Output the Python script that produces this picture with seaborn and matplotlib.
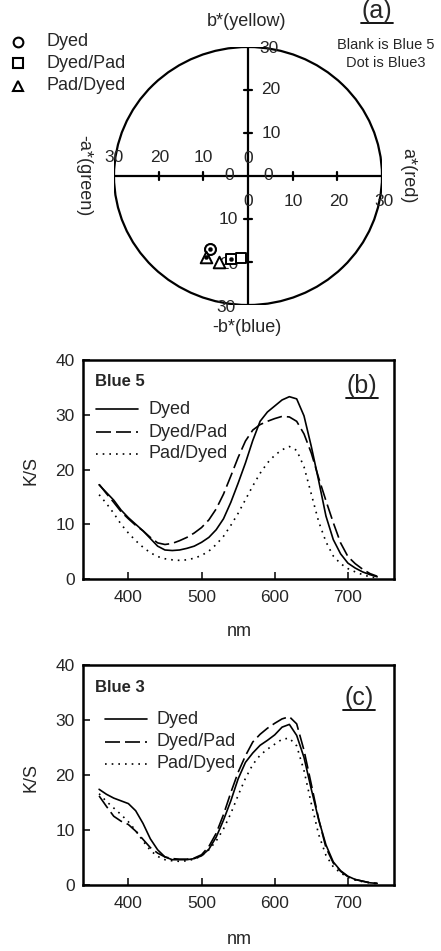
import numpy as np
import pandas as pd
import matplotlib
matplotlib.use("Agg")
import matplotlib.pyplot as plt
from matplotlib.patches import Ellipse
from matplotlib.lines import Line2D
import seaborn as sns

sns.set_theme(style="white")
plt.rcParams['font.family'] = ['Liberation Sans', 'DejaVu Sans']

# ---------------- data ----------------
series_names = ["Dyed", "Dyed/Pad", "Pad/Dyed"]

# panel (a): CIELab a*, b* coordinates
a_blue5 = [-8.6, -1.6, -6.4]
b_blue5 = [-17.0, -19.0, -20.0]
a_blue3 = [-8.6, -3.8, -9.3]
b_blue3 = [-17.0, -19.3, -18.9]

wavelength = list(range(360, 741, 10))

ks_blue5_dyed = [17.2, 15.8, 14.4, 12.6, 11.2, 10.0, 8.8, 7.4, 6.0, 5.3, 5.2, 5.3, 5.6, 6.0,
                 6.7, 7.6, 9.0, 11.0, 14.0, 17.5, 21.2, 25.3, 28.8, 30.5, 31.6, 32.7, 33.3,
                 32.9, 29.8, 24.2, 18.0, 11.5, 7.2, 4.6, 2.9, 2.0, 1.3, 0.8, 0.4]
ks_blue5_dyedpad = [17.3, 15.6, 14.0, 12.3, 11.0, 9.8, 8.8, 7.6, 6.6, 6.3, 6.5, 7.0, 7.6, 8.4,
                    9.4, 10.8, 12.8, 15.5, 18.8, 22.2, 25.2, 27.2, 28.2, 28.8, 29.3, 29.7, 29.6,
                    28.8, 26.5, 23.0, 18.5, 14.3, 10.3, 6.6, 4.1, 2.8, 1.8, 1.0, 0.5]
ks_blue5_paddyed = [15.4, 13.8, 12.0, 10.0, 8.4, 7.0, 5.8, 4.8, 4.1, 3.7, 3.5, 3.4, 3.5, 3.8,
                    4.3, 5.1, 6.3, 7.8, 9.8, 12.0, 14.5, 17.0, 19.3, 21.2, 22.6, 23.6, 24.2,
                    23.5, 20.5, 15.5, 10.5, 6.8, 4.2, 2.8, 1.9, 1.3, 0.8, 0.4, 0.2]

ks_blue3_dyed = [17.4, 16.5, 15.8, 15.3, 14.8, 13.5, 11.2, 8.4, 6.4, 5.1, 4.6, 4.6, 4.6, 4.8,
                 5.3, 6.5, 8.7, 11.8, 15.3, 19.3, 22.3, 24.0, 25.4, 26.3, 27.3, 28.7, 29.2,
                 27.2, 23.2, 17.4, 11.9, 7.3, 4.2, 2.6, 1.6, 1.0, 0.7, 0.4, 0.3]
ks_blue3_dyedpad = [16.2, 14.3, 12.5, 11.6, 11.0, 9.8, 8.3, 6.8, 5.8, 5.1, 4.8, 4.7, 4.7, 4.9,
                    5.5, 7.0, 9.4, 12.8, 16.8, 20.5, 23.5, 26.0, 27.4, 28.5, 29.4, 30.2, 30.6,
                    29.3, 24.5, 18.3, 12.0, 6.8, 4.0, 2.5, 1.5, 1.0, 0.7, 0.4, 0.3]
ks_blue3_paddyed = [16.6, 15.2, 14.0, 12.8, 11.5, 9.9, 8.0, 6.3, 5.2, 4.6, 4.4, 4.3, 4.4, 4.7,
                    5.3, 6.4, 8.0, 10.2, 13.0, 16.3, 19.4, 21.9, 23.6, 24.7, 25.6, 26.5, 26.7,
                    25.3, 20.8, 14.8, 9.2, 5.4, 3.3, 2.2, 1.4, 0.9, 0.6, 0.4, 0.2]

x_ticks = [400, 500, 600, 700]
y_ticks = [0, 10, 20, 30, 40]

# ---------------- figure ----------------
W, H = 441, 951
fig = plt.figure(figsize=(W / 100, H / 100), dpi=100)
fig.patch.set_facecolor("white")

def fx(px):
    return px / W

def fy(py):
    return 1 - py / H

styles = {"Dyed": dict(linestyle="-"),
          "Dyed/Pad": dict(linestyle=(0, (9, 3))),
          "Pad/Dyed": dict(linestyle=(0, (1, 3)))}

def tag_text(x, y, s):
    fig.text(fx(x), fy(y), s, ha="center", va="center", fontsize=18)
    fig.add_artist(Line2D([fx(x - 16), fx(x + 16)], [fy(y + 12), fy(y + 12)],
                          color="black", lw=1.3))

# ---------------- panel (a) ----------------
axa = fig.add_axes([fx(114), fy(305), fx(268), 258 / H])
axa.set_xlim(-30, 30)
axa.set_ylim(-30, 30)
axa.axis("off")
axa.add_patch(Ellipse((0, 0), 60, 60, fill=False, edgecolor="black", lw=1.6))
axa.plot([-30, 30], [0, 0], color="black", lw=1.6)
axa.plot([0, 0], [-30, 30], color="black", lw=1.6)
for t in [-20, -10, 10, 20]:
    axa.plot([t, t], [-0.9, 0.9], color="black", lw=1.6)
    axa.plot([-0.9, 0.9], [t, t], color="black", lw=1.6)

tfs = 12.5
tick_texts = [("30", 4.7, 29.6), ("20", 5.2, 20), ("10", 5.2, 10), ("0", 0, 4),
              ("30", -30, 4.2), ("20", -19.7, 4.2), ("10", -10, 4.2), ("0", -4.3, 0),
              ("0", 4.5, 0), ("10", 10.2, -6), ("20", 20.3, -6), ("30", 30.5, -6),
              ("0", 0, -6), ("10", -4.5, -10.2), ("20", -4.4, -20.5), ("30", -5, -30.5)]
for s, x, y in tick_texts:
    axa.text(x, y, s, ha="center", va="center", fontsize=tfs, clip_on=False)

# points
mk = {"Dyed": "o", "Dyed/Pad": "s", "Pad/Dyed": "^"}
msize = {"Dyed": 60, "Dyed/Pad": 50, "Pad/Dyed": 70}
for i, name in enumerate(series_names):
    sns.scatterplot(x=[a_blue5[i]], y=[b_blue5[i]], marker=mk[name], s=msize[name],
                    facecolor="white", edgecolor="black", linewidth=1.4, ax=axa, zorder=3)
for i, name in enumerate(series_names):
    sns.scatterplot(x=[a_blue3[i]], y=[b_blue3[i]], marker=mk[name], s=msize[name],
                    facecolor="white", edgecolor="black", linewidth=1.4, ax=axa, zorder=4)
    sns.scatterplot(x=[a_blue3[i]], y=[b_blue3[i]], marker="o", s=9,
                    color="black", edgecolor="black", ax=axa, zorder=5)

fig.text(fx(247), fy(22), "b*(yellow)", ha="center", va="center", fontsize=13)
fig.text(fx(247), fy(327), "-b*(blue)", ha="center", va="center", fontsize=13)
fig.text(fx(84), fy(176), "-a*(green)", ha="center", va="center", fontsize=13, rotation=-90)
fig.text(fx(408), fy(176), "a*(red)", ha="center", va="center", fontsize=13, rotation=-90)
tag_text(377, 11, "(a)")
fig.text(fx(386), fy(45), "Blank is Blue 5", ha="center", va="center", fontsize=10.5)
fig.text(fx(386), fy(63), "Dot is Blue3", ha="center", va="center", fontsize=10.5)

leg_y = [42, 63, 86]
for i, name in enumerate(series_names):
    fig.add_artist(Line2D([fx(18)], [fy(leg_y[i])], marker=mk[name], markersize=7,
                          markerfacecolor="white", markeredgecolor="black", mew=1.5,
                          linestyle="none"))
    fig.text(fx(47), fy(leg_y[i]), name, ha="left", va="center", fontsize=13)

# ---------------- panels (b), (c) ----------------
def spectrum_panel(rect, curves, title, tag, leg_x0, leg_ys, tag_xy, title_xy):
    ax = fig.add_axes(rect)
    for name, vals in zip(series_names, curves):
        df = pd.DataFrame({"nm": wavelength, "KS": vals})
        sns.lineplot(data=df, x="nm", y="KS", ax=ax, color="black", lw=1.2,
                     **styles[name])
    ax.set_xlim(338, 763)
    ax.set_ylim(0, 40)
    ax.set_xticks(x_ticks)
    ax.set_yticks(y_ticks)
    ax.tick_params(axis="x", direction="in", length=5, width=1.3, labelsize=12.5, pad=8,
                   bottom=True)
    ax.tick_params(axis="y", direction="in", length=5, width=1.3, labelsize=12.5, pad=6,
                   left=True)
    for sp in ax.spines.values():
        sp.set_visible(True)
        sp.set_color("black")
        sp.set_linewidth(1.8)
    ax.set_xlabel("")
    ax.set_ylabel("")
    ax.grid(False)
    ax.set_facecolor("white")
    fig.text(fx(title_xy[0]), fy(title_xy[1]), title, ha="left", va="center",
             fontsize=12, fontweight="bold")
    tag_text(tag_xy[0], tag_xy[1], tag)
    for name, yy in zip(series_names, leg_ys):
        fig.add_artist(Line2D([fx(leg_x0), fx(leg_x0 + 42)], [fy(yy), fy(yy)],
                              color="black", lw=1.2, **styles[name]))
        fig.text(fx(leg_x0 + 52), fy(yy), name, ha="left", va="center", fontsize=13)
    return ax

axb = spectrum_panel([fx(83), fy(579), fx(394 - 83), 219 / H],
                     [ks_blue5_dyed, ks_blue5_dyedpad, ks_blue5_paddyed],
                     "Blue 5", "(b)", 96, [409, 432, 454], (362, 386), (95, 382))
axc = spectrum_panel([fx(83), fy(885), fx(394 - 83), 220 / H],
                     [ks_blue3_dyed, ks_blue3_dyedpad, ks_blue3_paddyed],
                     "Blue 3", "(c)", 105, [719, 742, 764], (359, 698), (95, 688))

fig.text(fx(239), fy(632), "nm", ha="center", va="center", fontsize=13)
fig.text(fx(239), fy(940), "nm", ha="center", va="center", fontsize=13)
fig.text(fx(31), fy(470), "K/S", ha="center", va="center", fontsize=13, rotation=90)
fig.text(fx(31), fy(777), "K/S", ha="center", va="center", fontsize=13, rotation=90)

fig.savefig("out.png", dpi=100, facecolor="white")
